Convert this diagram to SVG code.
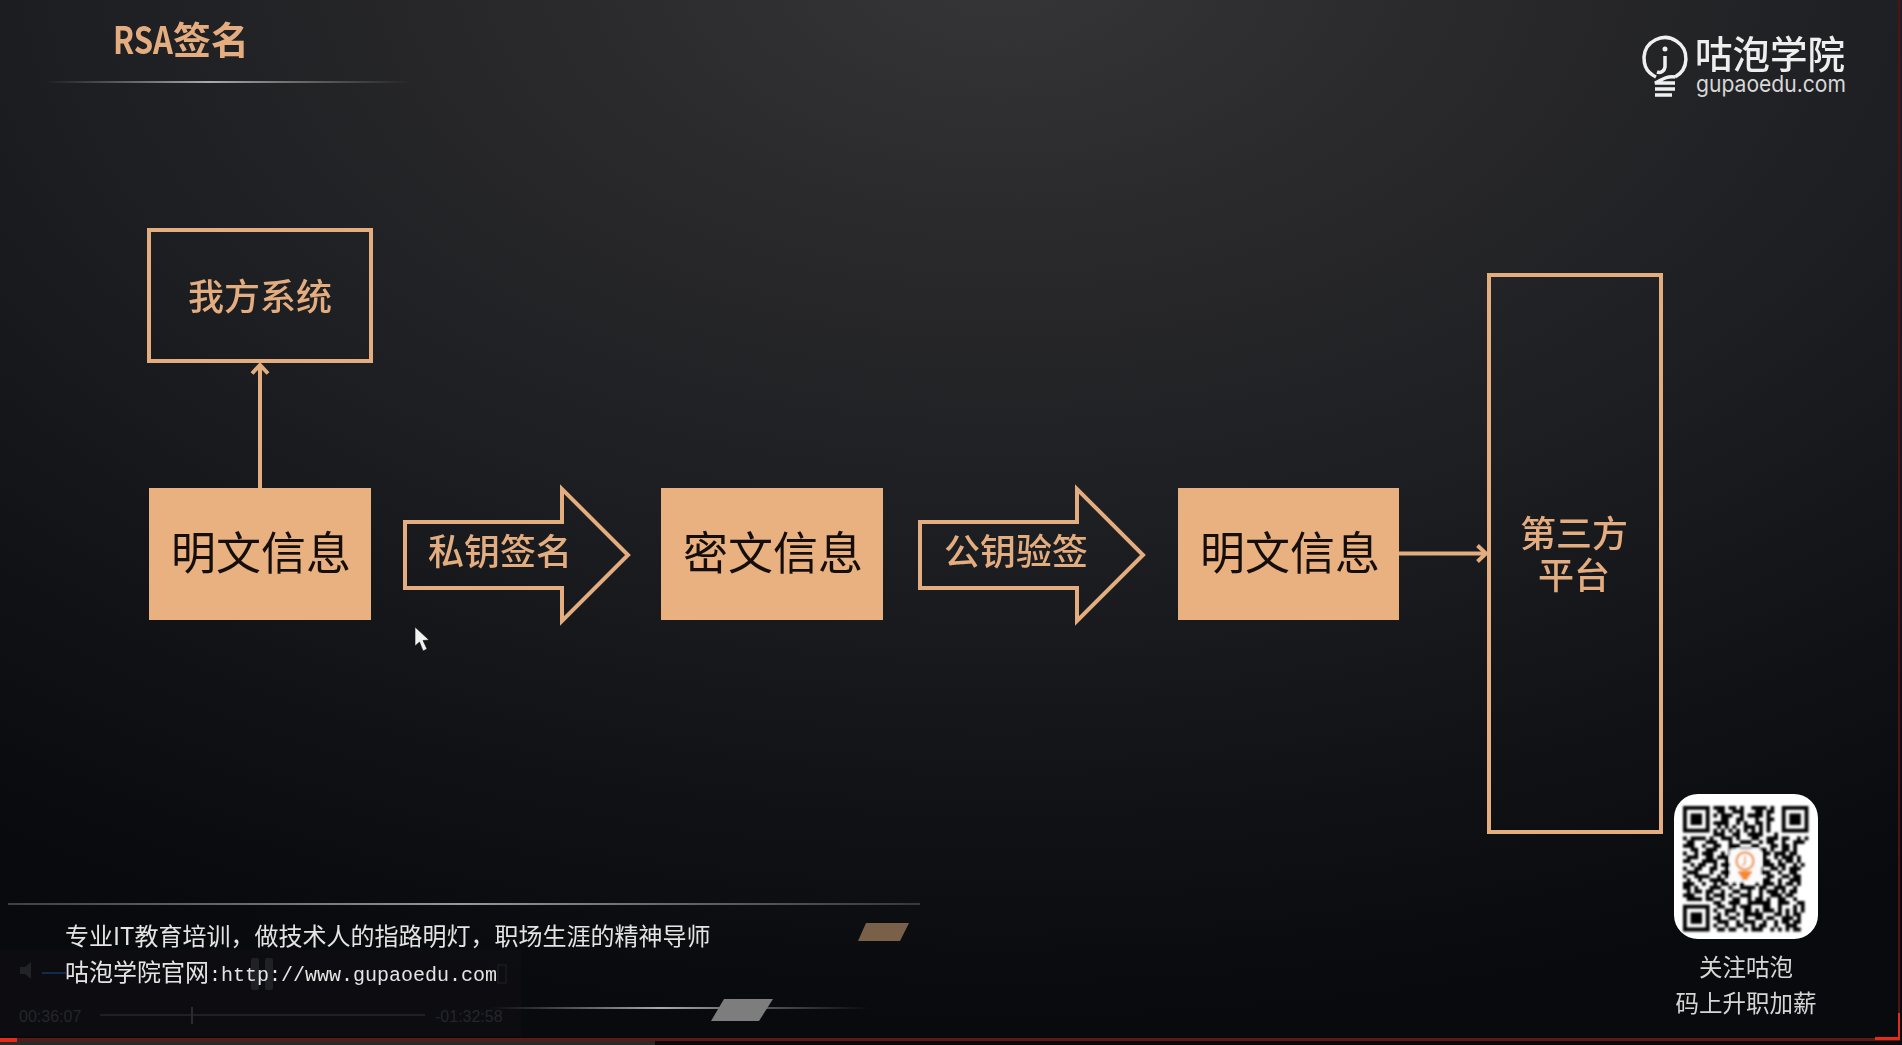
<svg xmlns="http://www.w3.org/2000/svg" width="1902" height="1045" viewBox="0 0 1902 1045">
<defs>
<radialGradient id="bg" gradientUnits="userSpaceOnUse" cx="0" cy="0" r="1" gradientTransform="translate(1000 -40) scale(1750 1060)">
<stop offset="0" stop-color="#363638"/><stop offset=".25" stop-color="#2a2a2d"/><stop offset=".55" stop-color="#1d1e21"/><stop offset=".8" stop-color="#111215"/><stop offset="1" stop-color="#090a0d"/>
</radialGradient>
<linearGradient id="lineA"><stop offset="0" stop-color="#999" stop-opacity="0"/><stop offset=".45" stop-color="#aaa"/><stop offset="1" stop-color="#999" stop-opacity="0"/></linearGradient>
<linearGradient id="lineB"><stop offset="0" stop-color="#777" stop-opacity=".5"/><stop offset=".5" stop-color="#999"/><stop offset="1" stop-color="#777" stop-opacity=".4"/></linearGradient>
<filter id="soft" x="-5%" y="-5%" width="110%" height="110%"><feGaussianBlur stdDeviation=".9"/></filter>
<filter id="tiny" x="-5%" y="-10%" width="110%" height="120%"><feGaussianBlur stdDeviation=".45"/></filter>
<marker id="open" viewBox="0 0 12 20" refX="10" refY="10" markerUnits="userSpaceOnUse" markerWidth="12" markerHeight="20" orient="auto"><path d="M1.500 2 L10 10 L1.500 18" fill="none" stroke="#e3ad80" stroke-width="4"/></marker>
</defs>
<style>
.cjk{font-family:"Noto Sans CJK SC","Noto Sans",sans-serif;filter:url(#tiny)}
.line{fill:none;stroke:#e3ad80;stroke-width:4}
.solid{fill:#e8b17f}
.big{font-size:45px;fill:#15100c;text-anchor:middle}
.mid{font-size:36px;fill:#e3ad80;text-anchor:middle;font-weight:500}
.foot{font-size:24px;fill:#e4e4e4}
.mono{font-family:"Liberation Mono",monospace;font-size:20px}
.qrt{font-size:23.500px;fill:#d6d6d6;text-anchor:middle}
.faint{font-family:"Liberation Sans",sans-serif;font-size:16px;fill:#24262a}
</style>
<rect width="1902" height="1045" fill="url(#bg)"/>
<g id="player">
<rect x="0" y="950" width="521" height="86" fill="#16171a" opacity=".3"/>
<path d="M20 967h5l6-5v17l-6-5h-5z" fill="#212326"/>
<rect x="42" y="972" width="24" height="2" fill="#13294d"/>
<rect x="251" y="958" width="8" height="32" rx="2" fill="#1f2124"/><rect x="265" y="958" width="8" height="32" rx="2" fill="#1f2124"/>
<rect x="498" y="965" width="8" height="18" fill="none" stroke="#212326"/>
<text class="faint" x="19" y="1022">00:36:07</text>
<rect x="100" y="1014" width="325" height="2" fill="#1e2023"/>
<rect x="191" y="1007" width="2" height="17" fill="#2a2c30"/>
<text class="faint" x="435" y="1022">-01:32:58</text>
</g>
<g id="title">
<text class="cjk" x="113" y="54" font-size="38" font-weight="700" fill="#e3ad80"><tspan textLength="60" lengthAdjust="spacingAndGlyphs">RSA</tspan>签名</text>
<rect x="45" y="81" width="365" height="2" fill="url(#lineA)"/>
</g>
<g id="logo">
<g fill="none" stroke="#f0f0f0" stroke-width="3.500">
<path d="M1656 77 C1644 71 1644 62 1644 57 A21 21 0 1 1 1675 77"/>
<path d="M1665 56 v11 a6 6 0 0 1-8 5"/>
<path d="M1675 77 C1665 76 1662 80 1655 83 H1675 M1655 89 H1675 M1655 95 H1672"/>
</g>
<circle cx="1665" cy="49" r="2.500" fill="#f0f0f0"/>
<text class="cjk" x="1695" y="68" font-size="37.500" font-weight="500" fill="#eeeeee">咕泡学院</text>
<text x="1696" y="92" font-family="Inter,sans-serif" font-size="23" fill="#d8d8d8" textLength="150" lengthAdjust="spacingAndGlyphs">gupaoedu.com</text>
</g>
<g id="connectors">
<line class="line" x1="260" y1="488" x2="260" y2="365" marker-end="url(#open)"/>
<line class="line" x1="1399" y1="553.500" x2="1486" y2="553.500" marker-end="url(#open)"/>
</g>
<g id="node-system"><rect class="line" x="149" y="230" width="222" height="131"/><text class="cjk mid" x="260" y="310">我方系统</text></g>
<g id="node-plain-1"><rect class="solid" x="149" y="488" width="222" height="132"/><text class="cjk big" x="261" y="570">明文信息</text></g>
<g id="node-sign"><polygon class="line" points="405,522 562,522 562,489 628,555 562,621 562,588 405,588"/><text class="cjk mid" x="500" y="565">私钥签名</text></g>
<g id="node-cipher"><rect class="solid" x="661" y="488" width="222" height="132"/><text class="cjk big" x="773" y="570">密文信息</text></g>
<g id="node-verify"><polygon class="line" points="920,522 1077,522 1077,489 1143,555 1077,621 1077,588 920,588"/><text class="cjk mid" x="1016" y="565">公钥验签</text></g>
<g id="node-plain-2"><rect class="solid" x="1178" y="488" width="221" height="132"/><text class="cjk big" x="1290" y="570">明文信息</text></g>
<g id="node-third"><rect class="line" x="1489" y="275" width="172" height="557"/><text class="cjk mid" x="1574" y="547">第三方</text><text class="cjk mid" x="1574" y="589">平台</text></g>
<path id="cursor" d="M415 627 V646 L419.500 642 L423 651 L427 649 L423 640.500 L429 640 Z" fill="#f2f2f2" stroke="#111" stroke-width=".6"/>
<g id="footer">
<rect x="8" y="903" width="912" height="2" fill="url(#lineB)"/>
<polygon points="866,923 909,923 900,941 858,941" fill="#7a6048"/>
<text class="cjk foot" x="65" y="945">专业IT教育培训，做技术人的指路明灯，职场生涯的精神导师</text>
<text class="cjk foot" x="65" y="981">咕泡学院官网<tspan class="mono">:http://www.gupaoedu.com</tspan></text>
<rect x="490" y="1007" width="380" height="2" fill="url(#lineA)"/>
<polygon points="724,999 773,999 759,1021 711,1021" fill="#7d7d7d"/>
</g>
<g id="qr">
<rect x="1674" y="794" width="144" height="145" rx="24" fill="#fff"/>
<g filter="url(#soft)">
<g transform="translate(1683 806) scale(3.800)">
<path fill="#000" fill-rule="evenodd" d="M0 0h7v7H0zM1 1v5h5V1zM2 2h3v3H2zM26 0h7v7h-7zM27 1v5h5V1zM28 2h3v3h-3zM0 26h7v7H0zM1 27v5h5v-5zM2 28h3v3H2z"/>
<path fill="none" stroke="#000" stroke-width="1" d="M8 .5h3m1 0h2m1 0h1m2 0h4m1 0h1
M9 1.500h2m2 0h3m3 0h2m1 0h2
M8 2.500h1m1 0h3m2 0h1m1 0h4m1 0h1
M10 3.500h2m2 0h2m3 0h1m2 0h2
M8 4.500h4m2 0h1m1 0h1m2 0h2m1 0h1
M9 5.500h1m1 0h1m1 0h1m2 0h3m1 0h1m1 0h1
M8 6.500h1m1 0h1m1 0h1m1 0h1m1 0h1m1 0h1m1 0h1m1 0h1
M8 7.500h3m2 0h2m2 0h4m3 0h1
M0 8.500h1m1 0h4m1 0h1m2 0h3m1 0h1m3 0h2m2 0h3m1 0h2m2 0h1m1 0h1
M1 9.500h2m3 0h3m3 0h1m2 0h3m2 0h1m1 0h2m2 0h1m2 0h3
M0 10.500h3m2 0h1m2 0h2m2 0h3m3 0h2m3 0h2m1 0h2m1 0h1
M2 11.500h2m2 0h3m3 0h2m1 0h3m2 0h2m1 0h1m2 0h2m1 0h1
M0 12.500h1m2 0h1m1 0h3m2 0h1m1 0h4m3 0h1m1 0h2m1 0h3m1 0h2
M1 13.500h3m2 0h2m1 0h3m9 0h1m2 0h1m1 0h3m1 0h1
M0 14.500h2m3 0h4m2 0h1m7 0h1m1 0h2m2 0h1m1 0h2m1 0h1
M2 15.500h1m1 0h2m2 0h1m1 0h3m8 0h3m1 0h2m2 0h1m1 0h1
M0 16.500h1m2 0h2m2 0h2m2 0h1m8 0h1m2 0h2m1 0h1m1 0h3
M1 17.500h3m3 0h1m2 0h3m7 0h3m2 0h1m2 0h2
M0 18.500h1m2 0h4m2 0h1m1 0h1m7 0h1m2 0h2m2 0h2m1 0h2
M1 19.500h1m2 0h1m2 0h4m2 0h1m7 0h2m2 0h1m2 0h3
M0 20.500h3m2 0h1m2 0h1m1 0h2m1 0h1m1 0h1m3 0h1m1 0h3m1 0h1m1 0h2m1 0h1
M0 21.500h2m1 0h1m3 0h3m2 0h1m2 0h4m1 0h2m2 0h3m2 0h1
M1 22.500h1m1 0h2m1 0h2m2 0h1m2 0h2m2 0h1m2 0h1m1 0h3m1 0h1m1 0h2
M0 23.500h3m3 0h1m1 0h3m1 0h1m2 0h3m2 0h1m2 0h3m1 0h2
M1 24.500h4m1 0h2m2 0h1m2 0h2m2 0h1m1 0h2m1 0h1m2 0h2m2 0h1
M8 25.500h2m2 0h3m2 0h6m2 0h3m2 0h2
M9 26.500h2m2 0h1m1 0h3m3 0h2m2 0h1m3 0h1m1 0h1
M8 27.500h1m2 0h3m2 0h2m1 0h1m1 0h3m1 0h1m1 0h1m1 0h1m1 0h1
M9 28.500h1m1 0h1m2 0h1m1 0h5m3 0h2m1 0h1m1 0h2
M8 29.500h2m2 0h2m2 0h1m2 0h2m1 0h2m2 0h3m1 0h1
M9 30.500h3m2 0h1m1 0h3m2 0h1m2 0h1m1 0h2m1 0h2
M8 31.500h1m2 0h1m2 0h2m2 0h1m1 0h2m2 0h1m2 0h3
M9 32.500h2m1 0h2m2 0h1m1 0h3m2 0h1m1 0h1m1 0h1m1 0h2"/>
</g>
<rect x="1730" y="849" width="31" height="33" rx="2" fill="#fbfbfb"/>
<circle cx="1745" cy="861" r="8.500" fill="none" stroke="#f0994a" stroke-width="2.500"/>
<path d="M1745 856v6a3 3 0 0 1-3 3" fill="none" stroke="#f0994a" stroke-width="1.500"/>
<path d="M1738 871h14v3h-2v3h-2v3h-6v-3h-2v-3h-2z" fill="#f58a2c"/>
</g>
<text class="cjk qrt" x="1746" y="976">关注咕泡</text>
<text class="cjk qrt" x="1746" y="1012">码上升职加薪</text>
</g>
<g id="frame">
<rect x="1898" y="0" width="2" height="1040" fill="#4a1611"/>
<rect x="0" y="1038" width="1900" height="3" fill="#5a1a12"/>
<rect x="0" y="1041" width="655" height="4" fill="#2a2a2c"/>
<rect x="0" y="1038" width="17" height="4" fill="#e62b18"/>
<rect x="1875" y="1037" width="25" height="3" fill="#e62b18"/>
<rect x="1898" y="1013" width="2" height="25" fill="#e62b18"/>
</g>
</svg>
